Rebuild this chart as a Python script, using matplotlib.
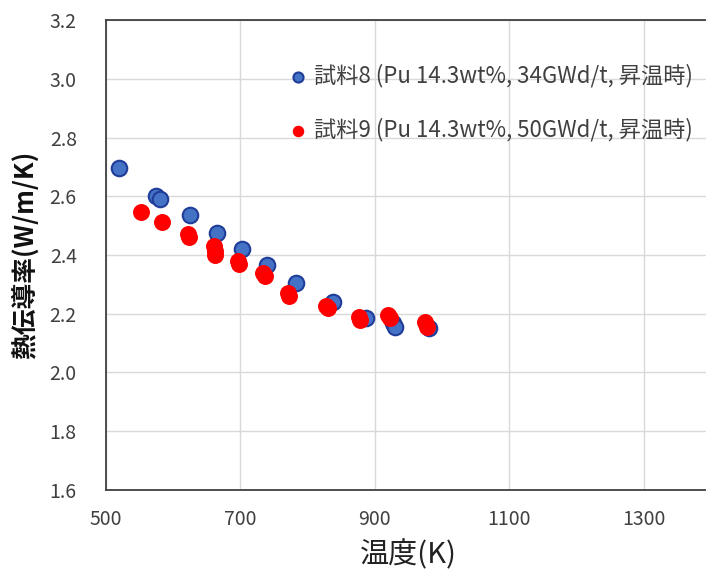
import matplotlib
matplotlib.use('Agg')
import matplotlib.pyplot as plt

plt.rcParams['font.family'] = ['Noto Sans CJK JP', 'DejaVu Sans']

# 試料8 (blue)
temp8 = [519, 575, 580, 625, 665, 703, 739, 783, 838, 887, 927, 930, 981]
k8 = [2.695, 2.600, 2.592, 2.536, 2.475, 2.420, 2.366, 2.305, 2.240, 2.186, 2.170, 2.155, 2.150]

# 試料9 (red)
temp9 = [552, 583, 622, 624, 661, 662, 663, 696, 698, 734, 736, 771, 772,
         828, 830, 876, 878, 920, 922, 975, 977]
k9 = [2.545, 2.512, 2.470, 2.460, 2.432, 2.412, 2.400, 2.380, 2.368, 2.338, 2.328, 2.272, 2.260,
      2.228, 2.218, 2.188, 2.180, 2.196, 2.184, 2.172, 2.156]

label8 = '試料8 (Pu 14.3wt%, 34GWd/t, 昇温時)'
label9 = '試料9 (Pu 14.3wt%, 50GWd/t, 昇温時)'

fig = plt.figure(figsize=(7.06, 5.72), dpi=100)
ax = fig.add_axes([0.150, 0.1434, 0.857, 0.8216])

ax.scatter(temp8, k8, s=125, c='#4472C4', edgecolors='#1F3D99', linewidths=1.5,
           label=label8, zorder=3)
ax.scatter(temp9, k9, s=125, c='#FF0000', edgecolors='#FF0000', linewidths=1.0,
           label=label9, zorder=4)

ax.set_xlim(500, 1400)
ax.set_ylim(1.6, 3.2)
ax.set_xticks([500, 700, 900, 1100, 1300])
ax.set_yticks([1.6, 1.8, 2.0, 2.2, 2.4, 2.6, 2.8, 3.0, 3.2])
ax.set_yticklabels(['%.1f' % v for v in ax.get_yticks()])
ax.grid(True, color='#D9D9D9', lw=1, zorder=0)
ax.set_axisbelow(True)
ax.tick_params(length=0, labelsize=14, colors='#404040')
ax.tick_params(axis='y', pad=21)
ax.tick_params(axis='x', pad=14)
for sp in ax.spines.values():
    sp.set_color('#404040')
    sp.set_linewidth(1.3)

ax.set_xlabel('温度(K)', fontsize=21, color='#222222', labelpad=7)
ax.set_ylabel('熱伝導率(W/m/K)', fontsize=18.5, fontweight='bold', color='#111111', labelpad=8)

leg = ax.legend(loc='upper left', bbox_to_anchor=(0.284, 0.925), frameon=False,
                fontsize=16, labelspacing=1.35, handlelength=1.0, handletextpad=0.25,
                markerscale=0.65, borderaxespad=0)
for t in leg.get_texts():
    t.set_color('#404040')

fig.savefig('out.png', dpi=100)
